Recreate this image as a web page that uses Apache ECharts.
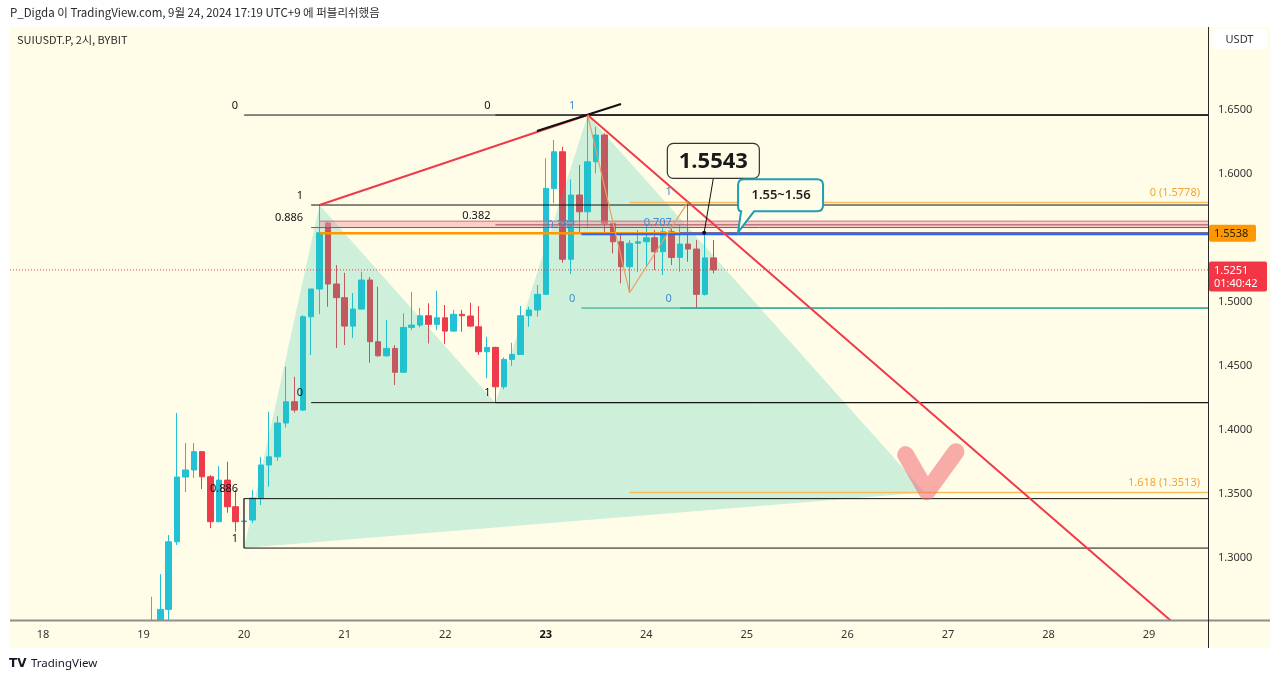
<!DOCTYPE html>
<html><head><meta charset="utf-8">
<script src="https://cdn.jsdelivr.net/npm/echarts@6/dist/echarts.min.js"></script>
<style>html,body{margin:0;padding:0;background:#fff}#c{width:1280px;height:681px}</style>
</head><body><div id="c"></div>
<script>
// ---------------- DATA ----------------
// candle open times, in hours since Sep 18 00:00 (2h candles)
const candleHours = [26,28,30,32,34,36,38,40,42,44,46,48,50,52,54,56,58,60,62,64,66,68,70,72,74,76,78,80,82,84,86,88,90,92,94,96,98,100,102,104,106,108,110,112,114,116,118,120,122,124,126,128,130,132,134,136,138,140,142,144,146,148,150,152,154,156,158,160];
const opens  = [1.240,1.248,1.2599,1.3127,1.3633,1.3688,1.3831,1.3635,1.3284,1.3609,1.3401,1.3284,1.3297,1.3469,1.3727,1.3791,1.4055,1.4221,1.4156,1.4885,1.5102,1.5617,1.5141,1.5034,1.4812,1.4945,1.5172,1.469,1.458,1.4638,1.4451,1.4802,1.482,1.4893,1.4826,1.4877,1.4773,1.4904,1.4891,1.4807,1.4612,1.4646,1.4338,1.4552,1.4591,1.4893,1.4938,1.506,1.5888,1.6174,1.5334,1.5836,1.5705,1.6096,1.6305,1.5615,1.5471,1.5276,1.5459,1.5471,1.5502,1.5393,1.5549,1.5349,1.5453,1.5414,1.506,1.5345];
const closes = [1.249,1.2599,1.3127,1.3633,1.3688,1.3831,1.3635,1.3284,1.3609,1.3401,1.3284,1.329,1.3469,1.3727,1.3791,1.4055,1.4221,1.4156,1.4885,1.5102,1.5541,1.5141,1.5034,1.4812,1.4945,1.5172,1.469,1.458,1.4638,1.4451,1.4802,1.482,1.4893,1.4826,1.4877,1.4773,1.4904,1.4893,1.4812,1.4612,1.4646,1.4338,1.4552,1.4591,1.4893,1.4938,1.506,1.5888,1.6174,1.5334,1.5836,1.5705,1.6096,1.6305,1.5615,1.5471,1.5276,1.5459,1.5471,1.5502,1.5393,1.5549,1.5349,1.5453,1.5414,1.506,1.5345,1.5251];
const lows   = [1.238,1.245,1.251,1.3102,1.3516,1.3625,1.3539,1.3234,1.328,1.3354,1.3205,1.3078,1.3273,1.3414,1.3557,1.376,1.402,1.4136,1.4148,1.4586,1.4906,1.4963,1.4641,1.4664,1.4719,1.4943,1.4526,1.4573,1.4573,1.4352,1.4449,1.4781,1.4802,1.4677,1.4781,1.4672,1.4768,1.4768,1.4807,1.4586,1.4404,1.4214,1.4318,1.45,1.4586,1.4807,1.4885,1.5055,1.5771,1.5307,1.5219,1.5537,1.5576,1.6005,1.5537,1.538,1.5146,1.5073,1.5234,1.5281,1.525,1.5211,1.5289,1.5237,1.5315,1.4953,1.505,1.5224];
const highs  = [1.2698,1.2875,1.318,1.4133,1.3898,1.3898,1.3835,1.3648,1.3719,1.3752,1.3531,1.3469,1.3531,1.3791,1.4143,1.411,1.4495,1.4416,1.4898,1.5102,1.5758,1.5627,1.5289,1.5229,1.507,1.5237,1.5195,1.512,1.4859,1.4664,1.4912,1.508,1.4953,1.499,1.5088,1.4977,1.4938,1.4938,1.4995,1.4969,1.4729,1.4651,1.4568,1.4682,1.4969,1.4964,1.5133,1.6123,1.6266,1.6213,1.5959,1.607,1.6461,1.637,1.6318,1.5615,1.5537,1.5484,1.5563,1.5609,1.5563,1.5576,1.5602,1.5602,1.5784,1.5484,1.5537,1.5484];

const dayTickHours = [0,24,48,72,96,120,144,168,192,216,240,264];
const dayTickLabels = ['18','19','20','21','22','23','24','25','26','27','28','29'];
const priceTicks = [1.30,1.35,1.40,1.45,1.50,1.55,1.60,1.65];

// harmonic pattern points X A B C D
const patHours  = [48, 66, 108, 130, 210.5];
const patPrices = [1.3078, 1.5758, 1.4214, 1.6461, 1.3513];

// fib tools
const fib1Start = 48,  fib1Prices = [1.6461, 1.3464, 1.3078], fib1Labels = ['0','0.886','1'];
const fib2Start = 64,  fib2Prices = [1.5758, 1.5582, 1.4214], fib2Labels = ['1','0.886','0'];
const fib3Start = 108, fib3Prices = [1.6461, 1.5603, 1.4214], fib3Labels = ['0','0.382','1'];
const fib4Start = 128.5, fib4Prices = [1.6461, 1.5529, 1.4953], fib4Labels = ['1','0.382','0'];
const fib5Start = 152, fib5Prices = [1.5784, 1.5541, 1.4953], fib5Labels = ['1','0.707','0'];
const fibOStart = 140, fibOPrices = [1.5778, 1.3513], fibOLabels = ['0 (1.5778)','1.618 (1.3513)'];

// zone band
const bandStart = 66, bandTop = 1.5632, bandBottom = 1.5578;
const orangeLevel = 1.5538;
const lastPrice = 1.5251;

// trend lines
const acLineHours = [66, 130], acLinePrices = [1.5758, 1.6461];
const tangentHours = [117.9, 137.96], tangentPrices = [1.6336, 1.6547];
const downLineHours = [130, 278], downLinePrices = [1.6461, 1.2261];
const zigHours = [130, 140, 154], zigPrices = [1.6461, 1.5073, 1.5784];
const checkHours = [205.9, 211.0, 217.9], checkPrices = [1.3808, 1.3518, 1.3831];

// callouts
const callout1 = {text:'1.5543', tipHour:157.8, tipPrice:1.5541, boxHour:160.0, boxPrice:1.5966};
const callout2 = {text:'1.55~1.56', tipHour:165.9, tipPrice:1.5545};

// ---------------- CHART ----------------
const X_MIN = -7.88, X_MAX = 278.07, Y_MIN = 1.2516, Y_MAX = 1.7141;
const FONT = 'Noto Sans, DejaVu Sans, sans-serif';
const BG = '#fffde8';
const chart = echarts.init(document.getElementById('c'), null, {width:1280, height:681});

function hLine(x0, price, color, width, type, z) {
  return {type:'line', data:[[x0, price],[X_MAX, price]], symbol:'none', silent:true, animation:false,
    lineStyle:{color:color, width:width||1, type:type||'solid'}, z:z||4};
}
function polyLine(xs, ys, color, width, z, extra) {
  return {type:'line', data:xs.map((x,i)=>[x, ys[i]]), symbol:'none', silent:true, animation:false,
    lineStyle:Object.assign({color:color, width:width}, extra||{}), z:z||4};
}
function textSeries(xs, ys, texts, st) {
  return {type:'custom', silent:true, animation:false, z:st.z||7, clip:false,
    data:xs.map((x,i)=>[x, ys[i]]), encode:{x:0, y:1},
    renderItem(params, api) {
      const p = api.coord([api.value(0), api.value(1)]);
      return {type:'text', x:p[0]+(st.dx||0), y:p[1]+(st.dy||0),
        style:{text:texts[params.dataIndex], fill:st.color, fontSize:st.size||11, fontFamily:FONT,
          fontWeight:st.weight||'normal', align:st.align||'right', verticalAlign:st.valign||'bottom'}};
    }};
}
function fibSeries(start, prices, labels, lineColors, labelColor, dx, widths) {
  const out = prices.map((p,i)=>hLine(start, p, lineColors[i], widths ? widths[i] : 1));
  out.push(textSeries(prices.map(()=>start), prices, labels, {color:labelColor, dx:dx, dy:-4}));
  return out;
}

const series = [];
// candles
series.push({type:'candlestick', z:2, animation:false, silent:true, barWidth:6, clip:true,
  data:candleHours.map((h,i)=>[h, opens[i], closes[i], lows[i], highs[i]]),
  encode:{x:0, y:[1,2,3,4]},
  itemStyle:{color:'#22c1d6', color0:'#ee3b4b', borderColor:'#22c1d6', borderColor0:'#ee3b4b', borderWidth:1}});

// pattern fill triangles (XAB, BCD, XBD)
const tris = [[0,1,2],[2,3,4],[0,2,4]];
series.push({type:'custom', z:3, silent:true, animation:false,
  data:tris.map(t=>[patHours[t[0]],patPrices[t[0]],patHours[t[1]],patPrices[t[1]],patHours[t[2]],patPrices[t[2]]]),
  encode:{x:[0,2,4], y:[1,3,5]},
  renderItem(params, api){
    const pts = [0,2,4].map(k=>api.coord([api.value(k), api.value(k+1)]));
    return {type:'polygon', shape:{points:pts}, style:{fill:'rgba(30,196,172,0.22)'}};
  }});

// pink zone band
series.push({type:'custom', z:3, silent:true, animation:false,
  data:[[bandStart, bandTop, X_MAX, bandBottom]], encode:{x:[0,2], y:[1,3]},
  renderItem(params, api){
    const a = api.coord([api.value(0), api.value(1)]), b = api.coord([api.value(2), api.value(3)]);
    return {type:'rect', shape:{x:a[0], y:a[1], width:b[0]-a[0], height:b[1]-a[1]}, style:{fill:'rgba(240,150,165,0.45)'}};
  }});
series.push(hLine(bandStart, bandTop, '#d06a7a', 1));
series.push(hLine(bandStart, orangeLevel, '#ff9800', 2.5, 'solid', 4));

// fib tools
const BLK = '#111111';
fibSeries(fib1Start, fib1Prices, fib1Labels, [BLK,BLK,BLK], BLK, -6).forEach(s=>series.push(s));
fibSeries(fib2Start, fib2Prices, fib2Labels, [BLK,'#8a5560',BLK], BLK, -8).forEach(s=>series.push(s));
fibSeries(fib3Start, fib3Prices, fib3Labels, [BLK,'#a04a58',BLK], BLK, -5).forEach(s=>series.push(s));
fibSeries(fib4Start, fib4Prices, fib4Labels, [BLK,'#2962ff','#1f9e8c'], '#3b8fd0', -6, [1,2,1]).forEach(s=>series.push(s));
fibSeries(fib5Start, fib5Prices, fib5Labels, ['rgba(0,0,0,0)','#3b5bbf','#1f9e8c'], '#3b8fd0', -8, [1,1,1]).forEach(s=>series.push(s));
fibOPrices.forEach(p=>series.push(hLine(fibOStart, p, '#f6bd5a', 1.5)));
series.push(textSeries(fibOPrices.map(()=>X_MAX), fibOPrices, fibOLabels, {color:'#eea53a', dx:-8, dy:-4}));
// left vertical edge of fib 1
series.push(polyLine([fib1Start, fib1Start], [fib1Prices[1], fib1Prices[2]], BLK, 1));

// current price dotted line
series.push(polyLine([X_MIN, X_MAX], [lastPrice, lastPrice], '#f23645', 1, 4, {type:[1,2]}));

// trend lines
series.push(polyLine(acLineHours, acLinePrices, '#ef3a4c', 2, 5));
series.push(polyLine(tangentHours, tangentPrices, '#111', 2, 5));
series.push(polyLine(downLineHours, downLinePrices, '#ef3a4c', 2, 5));
series.push(polyLine(zigHours, zigPrices, '#e8a060', 1.2, 5));

// pink check mark
series.push(polyLine(checkHours, checkPrices, 'rgba(240,105,115,0.55)', 17, 6, {cap:'round', join:'round'}));

// callout 1.5543
series.push({type:'custom', z:8, silent:true, animation:false, clip:false,
  data:[[callout1.tipHour, callout1.tipPrice, callout1.boxHour, callout1.boxPrice]], encode:{x:[0,2], y:[1,3]},
  renderItem(params, api){
    const tip = api.coord([api.value(0), api.value(1)]);
    const bx = api.coord([api.value(2), api.value(3)]);
    const w = 92, h = 35;
    return {type:'group', children:[
      {type:'line', shape:{x1:bx[0], y1:bx[1], x2:tip[0], y2:tip[1]}, style:{stroke:'#111', lineWidth:1}},
      {type:'circle', shape:{cx:tip[0], cy:tip[1], r:2}, style:{fill:'#111'}},
      {type:'rect', shape:{x:bx[0]-w/2, y:bx[1]-h, width:w, height:h, r:6}, style:{fill:BG, stroke:'#333', lineWidth:1.2}},
      {type:'text', x:bx[0], y:bx[1]-h/2+1, style:{text:callout1.text, fill:'#1a1a1a', fontSize:22, fontWeight:'bold', fontFamily:'Open Sans, Noto Sans, sans-serif', align:'center', verticalAlign:'middle'}}
    ]};
  }});
// callout 1.55~1.56 (speech bubble)
series.push({type:'custom', z:8, silent:true, animation:false, clip:false,
  data:[[callout2.tipHour, callout2.tipPrice]], encode:{x:0, y:1},
  renderItem(params, api){
    const tip = api.coord([api.value(0), api.value(1)]);
    return {type:'group', x:tip[0], y:tip[1]-53, children:[
      {type:'path', shape:{pathData:'M6,0 H79 Q85,0 85,6 V26 Q85,32 79,32 H16 L0,53 L3,32 Q0,32 0,27 V6 Q0,0 6,0 Z'},
        style:{fill:BG, stroke:'#1e9db5', lineWidth:2}},
      {type:'text', x:43, y:16.5, style:{text:callout2.text, fill:'#222', fontSize:13, fontWeight:600, fontFamily:FONT, align:'center', verticalAlign:'middle'}}
    ]};
  }});

// price tags on axis
series.push({type:'custom', z:9, silent:true, animation:false, clip:false,
  data:[[X_MAX, orangeLevel]], encode:{x:0, y:1},
  renderItem(params, api){
    const p = api.coord([api.value(0), api.value(1)]);
    return {type:'group', children:[
      {type:'rect', shape:{x:p[0]+1, y:p[1]-8.5, width:47, height:17, r:2}, style:{fill:'#ff9800'}},
      {type:'text', x:p[0]+6, y:p[1]+0.5, style:{text:orangeLevel.toFixed(4), fill:'#2b2100', fontSize:11, fontFamily:FONT, align:'left', verticalAlign:'middle'}}
    ]};
  }});
series.push({type:'custom', z:9, silent:true, animation:false, clip:false,
  data:[[X_MAX, lastPrice]], encode:{x:0, y:1},
  renderItem(params, api){
    const p = api.coord([api.value(0), api.value(1)]);
    return {type:'group', children:[
      {type:'rect', shape:{x:p[0]+1, y:p[1]-8.5, width:58, height:30, r:2}, style:{fill:'#f23645'}},
      {type:'text', x:p[0]+6, y:p[1]+0.5, style:{text:lastPrice.toFixed(4), fill:'#fff', fontSize:11, fontFamily:FONT, align:'left', verticalAlign:'middle'}},
      {type:'text', x:p[0]+6, y:p[1]+14, style:{text:'01:40:42', fill:'#fff', fontSize:11, fontFamily:FONT, align:'left', verticalAlign:'middle'}}
    ]};
  }});

const option = {
  backgroundColor:'#ffffff',
  animation:false,
  grid:{left:10, right:72, top:28, bottom:61, containLabel:false},
  xAxis:{type:'value', z:30, min:X_MIN, max:X_MAX, splitLine:{show:false}, axisLine:{show:false}, axisTick:{show:false},
    axisLabel:{customValues:dayTickHours, margin:9, color:'#333', fontSize:11, fontFamily:FONT,
      formatter:v=>{ const i = dayTickHours.indexOf(Math.round(v)); const t = dayTickLabels[i]; return t==='23' ? '{b|'+t+'}' : t; },
      rich:{b:{fontWeight:'bold', color:'#111', fontSize:11, fontFamily:FONT}}}},
  yAxis:{type:'value', position:'right', min:Y_MIN, max:Y_MAX, scale:true, splitLine:{show:false}, axisLine:{show:false}, axisTick:{show:false},
    axisLabel:{customValues:priceTicks, margin:10, color:'#333', fontSize:11, fontFamily:FONT, formatter:v=>v.toFixed(4)}},
  graphic:{elements:[
    {type:'rect', z:-1, shape:{x:10, y:27, width:1260, height:621}, style:{fill:BG}},
    {type:'rect', z:15, shape:{x:10, y:620, width:1198, height:28}, style:{fill:BG}},
    {type:'rect', z:1, shape:{x:1212, y:29, width:55, height:20, r:3}, style:{fill:'#fff'}},
    {type:'text', z:2, x:1239.5, y:40, style:{text:'USDT', fill:'#333', fontSize:11, fontFamily:FONT, align:'center', verticalAlign:'middle'}},
    {type:'rect', z:20, shape:{x:10, y:619.5, width:1260, height:2}, style:{fill:'#8e8e8e'}},
    {type:'rect', z:20, shape:{x:1208, y:27, width:1, height:621}, style:{fill:'#2a2a2a'}},
    {type:'text', x:10, y:13, style:{text:'P_Digda 이 TradingView.com, 9월 24, 2024 17:19 UTC+9 에 퍼블리쉬했음', fill:'#2a2a2a', fontSize:11.5, fontFamily:'Noto Sans CJK KR, Noto Sans, sans-serif', verticalAlign:'middle'}},
    {type:'text', x:17, y:40, style:{text:'SUIUSDT.P, 2시, BYBIT', fill:'#2a2a2a', fontSize:11, fontFamily:'Noto Sans CJK KR, Noto Sans, sans-serif', verticalAlign:'middle'}},
    {type:'text', x:9, y:664, style:{text:'TV', fill:'#131722', fontSize:12, fontWeight:'bold', fontFamily:'DejaVu Sans, sans-serif', verticalAlign:'middle'}},
    {type:'text', x:31, y:664, style:{text:'TradingView', fill:'#131722', fontSize:11.5, fontFamily:'Liberation Sans Narrow, Noto Sans, sans-serif', verticalAlign:'middle'}}
  ]},
  series:series
};
chart.setOption(option);
</script></body></html>
